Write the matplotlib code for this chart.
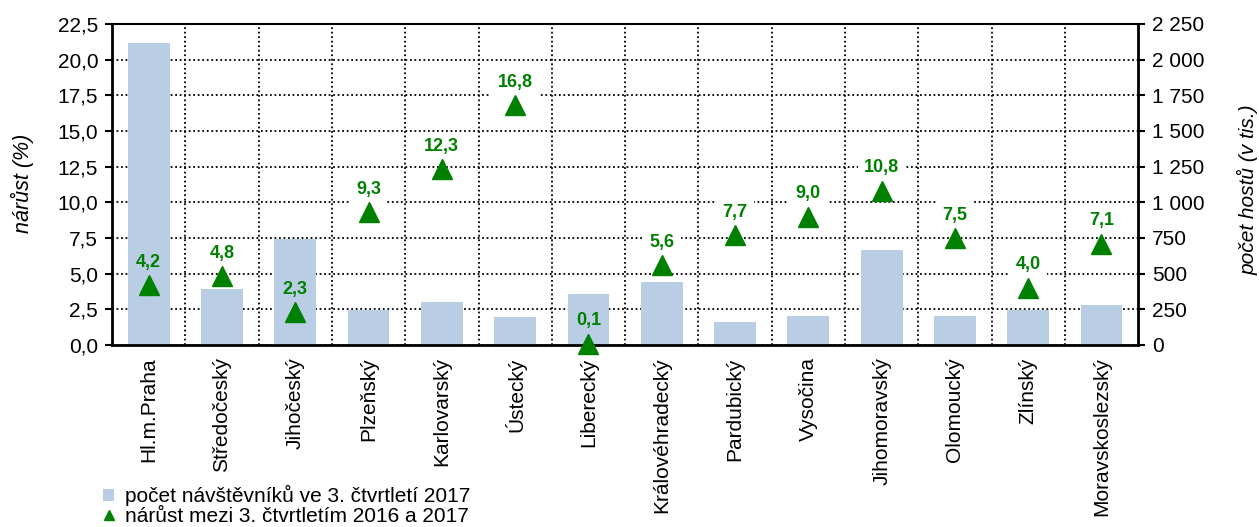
import matplotlib
matplotlib.use("Agg")
import matplotlib.pyplot as plt
from matplotlib.lines import Line2D
from matplotlib.patches import Patch
import numpy as np

plt.rcParams['font.family'] = ['Liberation Sans', 'DejaVu Sans']

regions = ["Hl.m.Praha", "Středočeský", "Jihočeský", "Plzeňský", "Karlovarský",
           "Ústecký", "Liberecký", "Královéhradecký", "Pardubický", "Vysočina",
           "Jihomoravský", "Olomoucký", "Zlínský", "Moravskoslezský"]
guests = [2120, 395, 745, 243, 300, 198, 355, 440, 158, 200, 663, 200, 245, 283]
growth = [4.2, 4.8, 2.3, 9.3, 12.3, 16.8, 0.1, 5.6, 7.7, 9.0, 10.8, 7.5, 4.0, 7.1]
left_ticks = [0, 2.5, 5, 7.5, 10, 12.5, 15, 17.5, 20, 22.5]
right_ticks = [0, 250, 500, 750, 1000, 1250, 1500, 1750, 2000, 2250]

bar_color = "#b9cde5"
green = "#008000"

fig = plt.figure(figsize=(12.59, 5.27), dpi=100)
ax = fig.add_axes([0.089, 0.3454, 0.815, 0.6091])
ax2 = ax.twinx()
x = np.arange(len(regions))

# bars on main axes (right scale)
ax.bar(x, guests, width=0.57, color=bar_color, zorder=2)
ax.set_xlim(-0.5, len(regions) - 0.5)
ax.set_ylim(0, 2250)
ax.set_xticks(x)
ax.set_xticklabels(regions, rotation=90, fontsize=15, va="top", ha="center")
ax.tick_params(axis="x", length=0, pad=9)
ax.set_xticks(np.arange(len(regions) - 1) + 0.5, minor=True)
ax.tick_params(axis="x", which="minor", length=0)
ax.set_axisbelow(True)
ax.grid(axis="y", which="major", color="black", linestyle=(0, (1, 1.5)), linewidth=1.3)
ax.grid(axis="x", which="minor", color="black", linestyle=(0, (1, 1.5)), linewidth=1.3)
ax.grid(axis="x", which="major", visible=False)
for s in ["left", "right", "bottom"]:
    ax.spines[s].set_linewidth(2)
    ax.spines[s].set_color("black")
ax.spines["top"].set_linestyle((0, (1, 1)))
ax.spines["top"].set_linewidth(1.5)

ax2.set_ylim(0, 22.5)
for s in ax2.spines.values():
    s.set_visible(False)

# tick sides: guests scale on the right, growth scale on the left
ax.yaxis.tick_right()
ax.set_yticks(right_ticks)
ax.set_yticklabels([f"{v:,}".replace(",", " ") for v in right_ticks])
ax.tick_params(axis="y", labelsize=15, length=5, width=1.5, direction="out", pad=5)

ax2.yaxis.tick_left()
ax2.set_yticks(left_ticks)
ax2.set_yticklabels([f"{v:.1f}".replace(".", ",") for v in left_ticks])
ax2.tick_params(axis="y", labelsize=15, length=5, width=1.5, direction="out", pad=5)

fig.text(22 / 1259, 1 - 183 / 527, "nárůst (%)", rotation=90, ha="center", va="center",
         fontsize=15.5, style="italic")
fig.text(1248 / 1259, 1 - 190 / 527, "počet hostů (v tis.)", rotation=90, ha="center",
         va="center", fontsize=15, style="italic")

ax2.plot(x, growth, linestyle="none", marker="^", markersize=14, color=green,
         zorder=5, clip_on=False)
for xi, g in zip(x, growth):
    txt = f"{g:.1f}".replace(".", ",")
    # white label box interrupts the gridlines but stays under the bars
    ax.annotate(txt, (xi, g), xycoords=ax2.transData, xytext=(0, 16.5),
                textcoords="offset points", ha="center", va="center",
                fontsize=13, fontweight="bold", color="white", zorder=1,
                bbox=dict(boxstyle="square,pad=0.35", fc="white", ec="none"))
    ax2.annotate(txt, (xi, g), xytext=(0, 16.5),
                 textcoords="offset points", ha="center", va="center",
                 fontsize=13, fontweight="bold", color=green, zorder=4)

handles = [Patch(facecolor=bar_color, edgecolor="none"),
           Line2D([], [], linestyle="none", marker="^", markersize=6.5, color=green)]
labels = ["počet návštěvníků ve 3. čtvrtletí 2017", "nárůst mezi 3. čtvrtletím 2016 a 2017"]
fig.legend(handles, labels, loc="lower left", bbox_to_anchor=(0.0755, -0.014),
           frameon=False, fontsize=15, handlelength=0.5, handleheight=0.5,
           handletextpad=0.55, labelspacing=0.05, borderaxespad=0)

fig.savefig("out.png", dpi=100)
